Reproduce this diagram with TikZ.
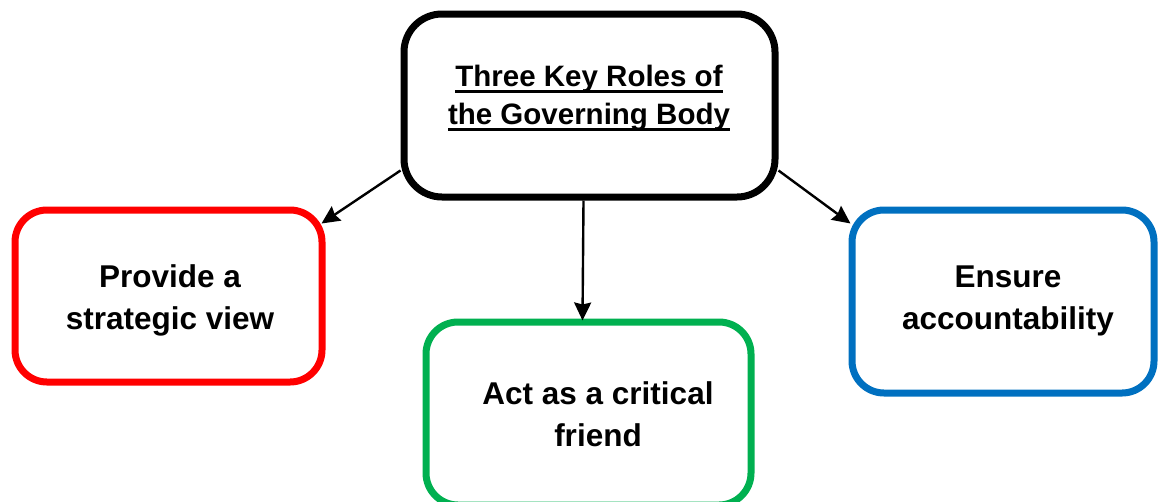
\documentclass[tikz,border=0pt]{standalone}
\usepackage{fontspec}
\setmainfont{Liberation Sans}
\usetikzlibrary{calc,arrows.meta}

\definecolor{rolered}{HTML}{FF0000}
\definecolor{rolegreen}{HTML}{00B050}
\definecolor{roleblue}{HTML}{0070C0}

% Underline a title line (rule across the descenders, like a word processor)
\newlength{\ulwidth}
\newcommand{\ulword}[1]{\settowidth{\ulwidth}{#1}\rlap{\rule[-6.5pt]{\ulwidth}{3.5pt}}#1}

\begin{document}
\begin{tikzpicture}[x=1pt,y=-1pt]  % 1 unit = 1 px of the 1158 x 501 frame, y down

    % Define some common styles
    \tikzset{
        rolebox/.style={draw, line width=7pt, rounded corners=32pt, inner sep=0pt},
        roletext/.style={inner sep=0pt, align=center, font=\fontsize{31.5}{42}\selectfont\bfseries},
        titletext/.style={inner sep=0pt, align=center, font=\fontsize{29.5}{38}\selectfont\bfseries},
        link/.style={line width=2.4pt, -{Stealth[length=18pt, width=17pt, inset=2pt]}}
    }

    % Frame of the picture
    \clip (0,0) rectangle (1158,501);

    % Draw the main box (black)
    \node[rolebox, rounded corners=38pt, minimum width=371pt, minimum height=183pt] (roles) at (589.5,105.5) {};
    \node[titletext] (rolestext) at (589,98.5) {\ulword{Three Key Roles of}\\\ulword{the Governing Body}};

    % Draw the three role boxes
    \node[rolebox, draw=rolered, minimum width=307pt, minimum height=172pt] (strategic) at (168.5,296) {};
    \node[roletext] (strategictext) at (170,300) {Provide a\\strategic view};

    \node[rolebox, draw=rolegreen, minimum width=325pt, minimum height=183pt] (friend) at (588.5,413.5) {};
    \node[roletext] (friendtext) at (598,414) {Act as a critical\\friend};

    \node[rolebox, draw=roleblue, minimum width=302pt, minimum height=183pt] (account) at (1003,301.5) {};
    \node[roletext] (accounttext) at (1008,301.3) {Ensure\\accountability};

    % Arrows from the main box to each role
    \draw[link] ($(roles.west)+(0,65)$) -- ($(strategic.north east)+(-4,17)$);
    \draw[link] ($(roles.south)+(-6,0)$) -- ($(friend.north)+(-6,2)$);
    \draw[link] ($(roles.east)+(0,65)$) -- ($(account.north west)+(2,17)$);

\end{tikzpicture}
\end{document}
